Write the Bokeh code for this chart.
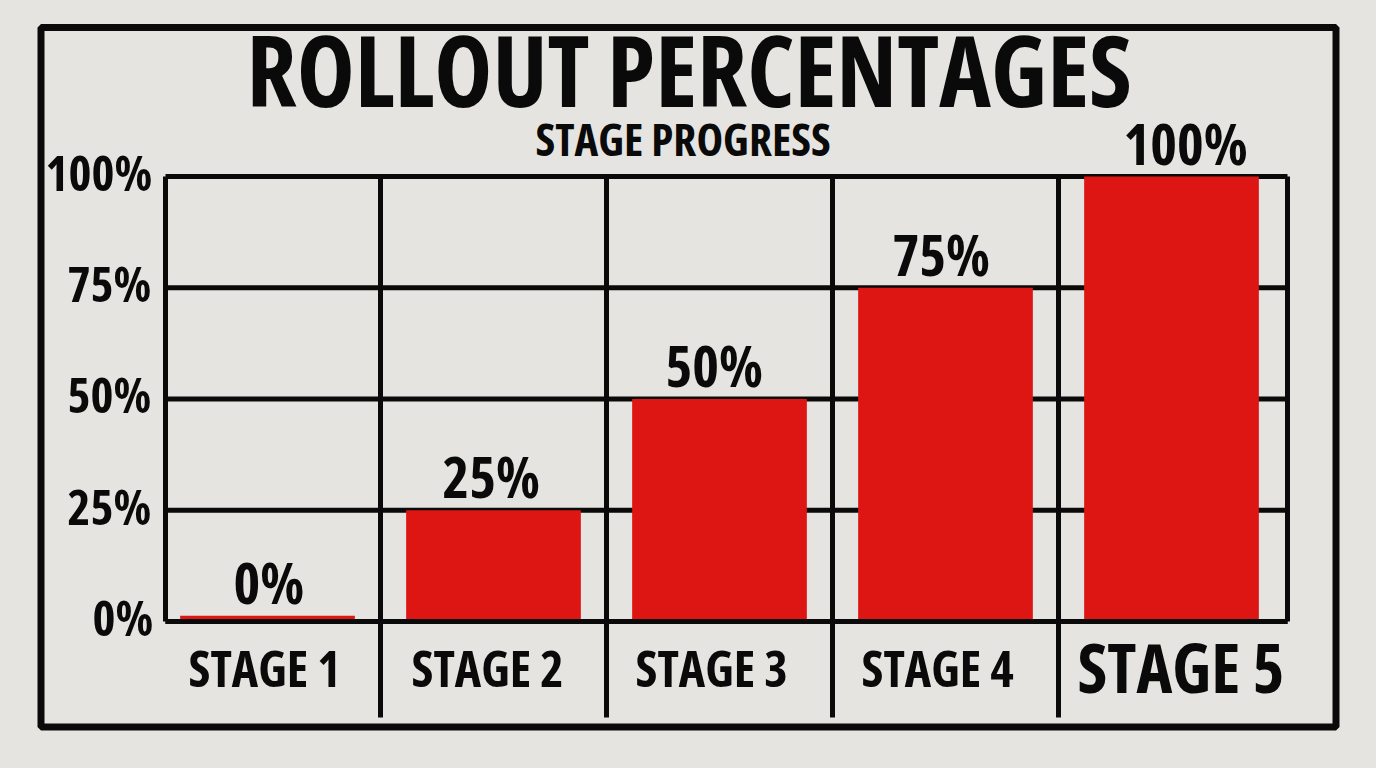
import numpy as np
from bokeh.plotting import figure
from bokeh.models import Range1d, ColumnDataSource, InlineStyleSheet
from bokeh.core.properties import value
from bokeh.embed import file_html
from bokeh.resources import INLINE

# ---- data ----
categories = ["STAGE 1", "STAGE 2", "STAGE 3", "STAGE 4", "STAGE 5"]
rollout_pct = [0, 25, 50, 75, 100]
bar_labels = ["0%", "25%", "50%", "75%", "100%"]
y_ticks = [0, 25, 50, 75, 100]
y_tick_labels = ["0%", "25%", "50%", "75%", "100%"]
title_text = "ROLLOUT PERCENTAGES"
subtitle_text = "STAGE PROGRESS"

# ---- styling / layout ----
BG = "#e5e4e0"
RED = "#de1613"
INK = "#0a0a0a"
FONT = "Open Sans"
W, H = 1376, 768
FS_TITLE, FS_SUB, FS_YTICK, FS_BAR, FS_CAT, FS_CAT_HI = 98, 45, 49, 57, 50, 68
# left edges (px) of the left-aligned texts
YTICK_LEFT_PX = [92, 67, 67, 67, 45]
BARLAB_LEFT_PX = [233, 442, 665, 892, 1123]
CAT_LEFT_PX = [188, 411, 635, 861, 1077]
TITLE_LEFT_PX, SUB_LEFT_PX = 246, 535

# screen px -> data helpers
X0, DX = 267.0, 226.0   # px of category 0, px per category
Y0, DY = 621.0, 4.45    # px of 0%, px per percent
def dx(px):
    return (np.asarray(px, dtype=float) - X0) / DX
def dy(py):
    return (Y0 - py) / DY
def lift(fs):
    # renderer places the alphabetic baseline ~0.42em low; compensate (data units)
    return 0.42 * fs / DY

p = figure(width=W, height=H, output_backend="svg", toolbar_location=None,
           x_range=Range1d(float(dx(0)), float(dx(W))), y_range=Range1d(dy(H), dy(0)),
           x_axis_type=None, y_axis_type=None, min_border=0,
           background_fill_color=BG, border_fill_color=BG)
p.outline_line_color = None
p.stylesheets = [InlineStyleSheet(css="text{font-weight:800 !important;}")]

xs = np.arange(len(categories))
x_left, x_right = float(dx(165)), float(dx(1287))
y_sep_bottom = dy(717)

# outer border
p.quad(left=[float(dx(40.5))], right=[float(dx(1335.5))], top=[dy(27)], bottom=[dy(726.5)],
       fill_color=None, line_color=INK, line_width=7)

# horizontal grid / frame lines
p.segment(x0=[x_left] * len(y_ticks), x1=[x_right] * len(y_ticks),
          y0=y_ticks, y1=y_ticks, line_color=INK, line_width=5)
# outer vertical frame lines
p.segment(x0=[x_left, x_right], x1=[x_left, x_right], y0=[0, 0],
          y1=[max(y_ticks)] * 2, line_color=INK, line_width=5)
# category separators extend below the baseline
seps = xs[:-1] + 0.5
p.segment(x0=seps, x1=seps, y0=[y_sep_bottom] * len(seps),
          y1=[max(y_ticks)] * len(seps), line_color=INK, line_width=5)

# bars (tiny minimum height so a 0% bar remains visible)
vals = np.array(rollout_pct, dtype=float)
tops = np.maximum(vals, 1.3)
src = ColumnDataSource(dict(x=xs, top=tops, lab=bar_labels,
                            labx=dx(BARLAB_LEFT_PX),
                            laby=tops + 10 / DY + lift(FS_BAR)))
p.vbar(x="x", top="top", bottom=0, width=0.773, source=src,
       fill_color=RED, line_color=None)
# baseline drawn over the bars
p.segment(x0=[x_left], x1=[x_right], y0=[0], y1=[0], line_color=INK, line_width=5)

# bar value labels
p.text(x="labx", y="laby", text="lab", source=src, text_align="left",
       text_baseline="alphabetic", text_font=value(FONT), text_font_style="bold",
       text_font_size="%dpx" % FS_BAR, text_color=INK)

# y tick labels
p.text(x=dx(YTICK_LEFT_PX),
       y=[t - 16 / DY + lift(FS_YTICK) for t in y_ticks],
       text=y_tick_labels, text_align="left", text_baseline="alphabetic",
       text_font=value(FONT), text_font_style="bold",
       text_font_size="%dpx" % FS_YTICK, text_color=INK)

# category labels (last one emphasised)
csrc = ColumnDataSource(dict(
    x=dx(CAT_LEFT_PX),
    y=[dy(688) + lift(FS_CAT)] * 4 + [dy(695) + lift(FS_CAT_HI)],
    t=categories,
    fs=["%dpx" % FS_CAT] * 4 + ["%dpx" % FS_CAT_HI]))
p.text(x="x", y="y", text="t", source=csrc, text_align="left",
       text_baseline="alphabetic", text_font=value(FONT), text_font_style="bold",
       text_font_size="fs", text_color=INK)

# title and subtitle
p.text(x=[float(dx(TITLE_LEFT_PX))], y=[dy(110) + lift(FS_TITLE)], text=[title_text],
       text_align="left", text_baseline="alphabetic", text_font=value(FONT),
       text_font_style="bold", text_font_size="%dpx" % FS_TITLE, text_color=INK)
p.text(x=[float(dx(SUB_LEFT_PX))], y=[dy(157) + lift(FS_SUB)], text=[subtitle_text],
       text_align="left", text_baseline="alphabetic", text_font=value(FONT),
       text_font_style="bold", text_font_size="%dpx" % FS_SUB, text_color=INK)

html = file_html(p, INLINE)
html = html.replace("<head>",
                    "<head><style>html,body{margin:0;padding:0;overflow:hidden;"
                    "background:" + BG + ";font-stretch:condensed;}</style>", 1)
open("out.html", "w").write(html)
